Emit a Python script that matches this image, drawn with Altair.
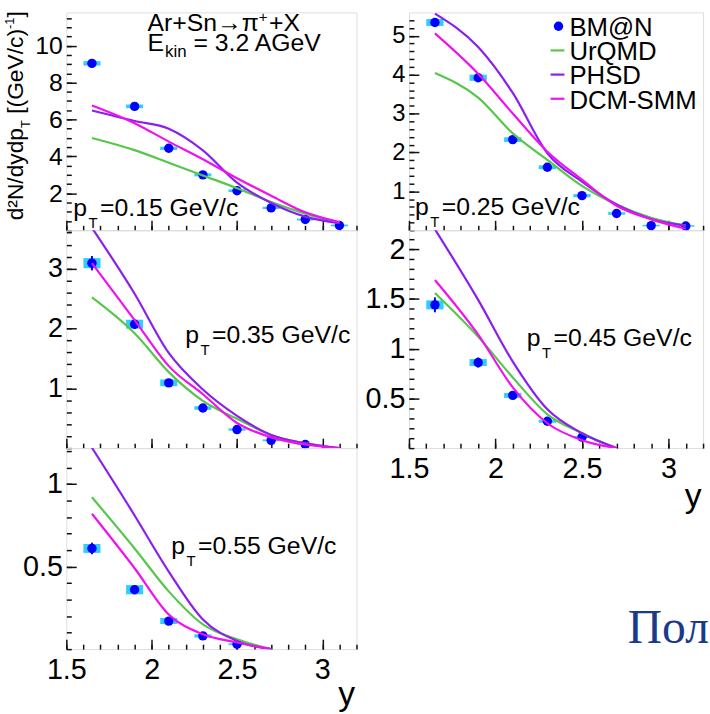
import altair as alt
import pandas as pd

FONT = "Liberation Sans"
BLUE = "#0000ff"
SYS_COLOR = "#33ccff"
SERIES = ["BM@N", "UrQMD", "PHSD", "DCM-SMM"]
SERIES_COLORS = ["#0000ff", "#55c84a", "#8b1ef0", "#f010f0"]

# rapidity bins
RAP = [1.65, 1.9, 2.1, 2.3, 2.5, 2.7, 2.9, 3.1]
RAP_7 = [1.65, 1.9, 2.1, 2.3, 2.5, 2.7, 2.9]
RAP_SHORT = [1.65, 1.9, 2.1, 2.3, 2.5]
MODEL_RAP_SHORT = [1.65, 1.9, 2.1, 2.3, 2.5, 2.7]

# pT = 0.15 GeV/c
B15 = [9.04, 6.71, 4.44, 3.00, 2.14, 1.21, 0.58, 0.26]
S15 = [0.12, 0.10, 0.09, 0.08, 0.07, 0.06, 0.05, 0.05]
E15 = [0.10, 0.08, 0.06, 0.05, 0.04, 0.03, 0.03, 0.03]
U15 = [5.00, 4.34, 3.66, 2.97, 2.28, 1.53, 0.90, 0.40]
P15 = [6.49, 5.92, 5.50, 4.33, 2.58, 1.48, 0.74, 0.38]
D15 = [6.76, 5.80, 4.80, 3.85, 2.82, 1.87, 0.97, 0.44]

# pT = 0.25 GeV/c
B25 = [5.34, 3.92, 2.33, 1.62, 0.89, 0.43, 0.12, 0.11]
S25 = [0.09, 0.08, 0.06, 0.05, 0.04, 0.03, 0.02, 0.02]
E25 = [0.06, 0.05, 0.04, 0.03, 0.03, 0.02, 0.02, 0.02]
U25 = [4.04, 3.41, 2.49, 1.81, 1.14, 0.66, 0.32, 0.12]
P25 = [5.57, 4.71, 3.53, 1.98, 1.25, 0.66, 0.29, 0.12]
D25 = [5.06, 4.02, 3.00, 2.02, 1.30, 0.63, 0.28, 0.04]

# pT = 0.35 GeV/c (data up to y = 2.9)
B35 = [3.09, 2.07, 1.09, 0.67, 0.31, 0.13, 0.06]
S35 = [0.085, 0.075, 0.055, 0.03, 0.02, 0.015, 0.01]
E35 = [0.12, 0.08, 0.05, 0.03, 0.02, 0.015, 0.01]
U35 = [2.52, 1.92, 1.27, 0.79, 0.49, 0.22, 0.08, 0.0]
P35 = [3.68, 2.58, 1.59, 0.98, 0.54, 0.22, 0.08, 0.0]
D35 = [3.09, 2.14, 1.37, 0.90, 0.42, 0.18, 0.06, 0.0]

# pT = 0.45 GeV/c
B45 = [1.44, 0.86, 0.53, 0.27, 0.11]
S45 = [0.045, 0.035, 0.025, 0.015, 0.01]
E45 = [0.075, 0.05, 0.03, 0.02, 0.01]
U45 = [1.56, 1.12, 0.71, 0.34, 0.15, 0.0]
P45 = [2.20, 1.49, 0.87, 0.39, 0.15, 0.0]
D45 = [1.69, 1.14, 0.61, 0.25, 0.08, 0.0]

# pT = 0.55 GeV/c
B55 = [0.61, 0.36, 0.17, 0.08, 0.03]
S55 = [0.027, 0.028, 0.018, 0.01, 0.006]
E55 = [0.035, 0.025, 0.015, 0.01, 0.006]
U55 = [0.92, 0.61, 0.35, 0.15, 0.06, 0.0]
P55 = [1.22, 0.81, 0.47, 0.18, 0.05, 0.0]
D55 = [0.82, 0.49, 0.21, 0.09, 0.04, 0.0]

X_MAJOR = [1.5, 2.0, 2.5, 3.0]
X_MINOR = [round(1.5 + 0.1 * i, 2) for i in range(18)]

CW = {' ': 0.278, '+': 0.584, '-': 0.333, '.': 0.278, '/': 0.278, '=': 0.584,
      '@': 1.015, '(': 0.333, ')': 0.333, '[': 0.278, ']': 0.278,
      'A': 0.667, 'B': 0.667, 'C': 0.722, 'D': 0.722, 'E': 0.667, 'G': 0.778,
      'H': 0.722, 'M': 0.833, 'N': 0.722, 'P': 0.667, 'Q': 0.778, 'S': 0.667,
      'T': 0.611, 'U': 0.722, 'V': 0.667, 'X': 0.667, 'c': 0.5, 'd': 0.556,
      'e': 0.556, 'i': 0.222, 'k': 0.5, 'n': 0.556, 'p': 0.556, 'r': 0.333,
      'y': 0.5, 'π': 0.57, '→': 1.0, '²': 0.333}


def text_width(s, size):
    return sum(CW.get(c, 0.556) for c in s) * size


def txt(s, x, y, size, angle=0, font=FONT, color="black", align="left"):
    return alt.Chart(pd.DataFrame({"t": [s]})).mark_text(
        align=align, baseline="alphabetic", fontSize=size, font=font,
        color=color, angle=angle).encode(text="t:N", x=alt.value(x), y=alt.value(y))


def rich(pieces, x0, y0, angle=0):
    layers = []
    adv = 0.0
    for s, size, shift, pad in pieces:
        lead = len(s) - len(s.lstrip(" "))
        adv += lead * 0.278 * size
        s = s.lstrip(" ")
        if angle == 270:
            x, y = x0 + shift, y0 - adv
        else:
            x, y = x0 + adv, y0 + shift
        layers.append(txt(s, x, y, size, angle=angle))
        adv += text_width(s, size) + pad
    return layers


def pt_label(value, x0, y0):
    return rich([("p", 25, 0, 1.5), ("T", 15, 12, 2.5), ("=%s GeV/c" % value, 25, 0, 0)], x0, y0)


def panel(rap, bmn, sys_, stat, mrap, ur, ph, dcm, ymax, ymajor, ystep, w, h,
          lab, show_x, title_y=0, extra=None):
    xscale = alt.Scale(domain=[1.5, 3.2], nice=False, zero=False)
    yscale = alt.Scale(domain=[0, ymax], nice=False, zero=False)
    pts = pd.DataFrame({"rap": rap, "val": bmn, "sys": sys_, "stat": stat})
    pts["sx1"] = pts.rap - 0.05
    pts["sx2"] = pts.rap + 0.05
    pts["sy1"] = pts.val - pts.sys
    pts["sy2"] = pts.val + pts.sys
    pts["ey1"] = pts.val - pts.stat
    pts["ey2"] = pts.val + pts.stat
    rows = []
    for name, vals in zip(SERIES[1:], [ur, ph, dcm]):
        for r, v in zip(mrap, vals):
            rows.append({"model": name, "rap": r, "val": v})
    mdf = pd.DataFrame(rows)

    yminor = [round(ystep * i, 3) for i in range(int(ymax / ystep) + 1)]
    xkw = dict(orient="bottom", values=X_MAJOR, tickSize=10, offset=-10, domain=False,
               grid=False, labels=show_x, labelFontSize=lab, labelPadding=7,
               labelFlush=False, format="~r", tickColor="#111", tickWidth=1.5,
               labelColor="black", labelFont=FONT)
    if show_x:
        xkw.update(title="y", titleFontSize=34, titleFont=FONT, titleFontWeight="normal",
                   titleAlign="right", titleAnchor="end", titleBaseline="alphabetic",
                   titleX=w - 2, titleY=title_y, titleColor="black")
    else:
        xkw.update(title=None)
    x_major = alt.Axis(**xkw)
    y_major = alt.Axis(orient="left", values=ymajor, tickSize=10, offset=-10, domain=False,
                       grid=False, labelFontSize=lab, labelPadding=4, format="~r",
                       tickColor="#111", tickWidth=1.5, labelColor="black",
                       labelFont=FONT, title=None)
    x_minor = alt.Axis(orient="bottom", values=X_MINOR, tickSize=5, offset=-5, labels=False,
                       domain=False, grid=False, tickColor="#111", tickWidth=1.5, title=None)
    y_minor = alt.Axis(orient="left", values=yminor, tickSize=5, offset=-5, labels=False,
                       domain=False, grid=False, tickColor="#111", tickWidth=1.5, title=None)

    sys_layer = alt.Chart(pts).mark_rect(color=SYS_COLOR).encode(
        x=alt.X("sx1:Q", scale=xscale, axis=None), x2="sx2:Q",
        y=alt.Y("sy1:Q", scale=yscale, axis=None), y2="sy2:Q")
    stat_layer = alt.Chart(pts).mark_rule(color=BLUE, strokeWidth=2).encode(
        x=alt.X("rap:Q", scale=xscale, axis=None),
        y=alt.Y("ey1:Q", scale=yscale, axis=None), y2="ey2:Q")
    pt_layer = alt.Chart(pts).mark_circle(color=BLUE, size=90, opacity=1).encode(
        x=alt.X("rap:Q", scale=xscale, axis=x_major),
        y=alt.Y("val:Q", scale=yscale, axis=y_major))
    line_layer = alt.Chart(mdf).mark_line(strokeWidth=2.2, clip=True,
                                          interpolate="monotone").encode(
        x=alt.X("rap:Q", scale=xscale, axis=x_minor),
        y=alt.Y("val:Q", scale=yscale, axis=y_minor),
        color=alt.Color("model:N", scale=alt.Scale(domain=SERIES[1:], range=SERIES_COLORS[1:]),
                        legend=None))
    layers = [sys_layer, stat_layer, pt_layer, line_layer] + (extra or [])
    return alt.layer(*layers).resolve_axis(x="independent", y="independent").properties(
        width=w, height=h)


# ---- annotations ----
title_layers = (rich([("Ar+Sn→π", 25, 0, 3), ("+", 15, -9, 1.5), ("+X", 25, 0, 0)], 82, 19)
                + rich([("E", 25, 0, 1), ("kin", 17, 6, 0), (" = 3.2 AGeV", 25, 0, 0)], 82, 39))
ytitle_layers = rich([("d²N/dydp", 23, 0, 0), ("T", 13, 7, 0), (" [(GeV/c)", 23, 0, 0),
                      ("-1", 13, -9, 0), ("]", 23, 0, 0)], -44, 210, angle=270)

legend_layers = []
for i, name in enumerate(SERIES):
    base = 24 + i * 24.4
    legend_layers.append(txt(name, 162, base, 26))
    if i == 0:
        legend_layers.append(alt.Chart(pd.DataFrame({"s": [name]})).mark_circle(
            color=SERIES_COLORS[0], size=90, opacity=1).encode(
            x=alt.value(151), y=alt.value(base - 10)))
    else:
        legend_layers.append(alt.Chart(pd.DataFrame({"s": [name]})).mark_rule(
            color=SERIES_COLORS[i], strokeWidth=2.2).encode(
            x=alt.value(143), x2=alt.value(157), y=alt.value(base - 10)))

p1 = panel(RAP, B15, S15, E15, RAP, U15, P15, D15, 11.8, [2, 4, 6, 8, 10], 0.5, 293, 220, 25,
           False, extra=title_layers + ytitle_layers + pt_label("0.15", 7, 206))
p3 = panel(RAP_7, B35, S35, E35, RAP, U35, P35, D35, 3.64, [1, 2, 3], 0.2, 293, 220, 27,
           False, extra=pt_label("0.35", 120, 114))
p5 = panel(RAP_SHORT, B55, S55, E55, MODEL_RAP_SHORT, U55, P55, D55, 1.218, [0.5, 1], 0.1,
           293, 203, 29, True, title_y=66, extra=pt_label("0.55", 106, 107))
p2 = panel(RAP, B25, S25, E25, RAP, U25, P25, D25, 5.6, [1, 2, 3, 4, 5], 0.2, 297, 220, 24,
           False, extra=legend_layers + pt_label("0.25", 6, 205))
p4 = panel(RAP_SHORT, B45, S45, E45, MODEL_RAP_SHORT, U45, P45, D45, 2.19, [0.5, 1, 1.5, 2],
           0.1, 297, 220, 29, True, title_y=69,
           extra=pt_label("0.45", 119, 117) + [txt("Пол", 221, 417, 48, font="Liberation Serif",
                                                  color="#1a3a8c")])

chart = alt.concat(p1, p2, p3, p4, p5, columns=2, spacing={"row": 0, "column": 53},
                   bounds="flush").properties(
    padding={"left": 3, "top": 6, "right": 0, "bottom": 0},
    background="white",
).configure_view(stroke="#1a1a1a", strokeWidth=2).configure(font=FONT)

chart.save("out.html", embed_options={"renderer": "svg", "actions": False})
